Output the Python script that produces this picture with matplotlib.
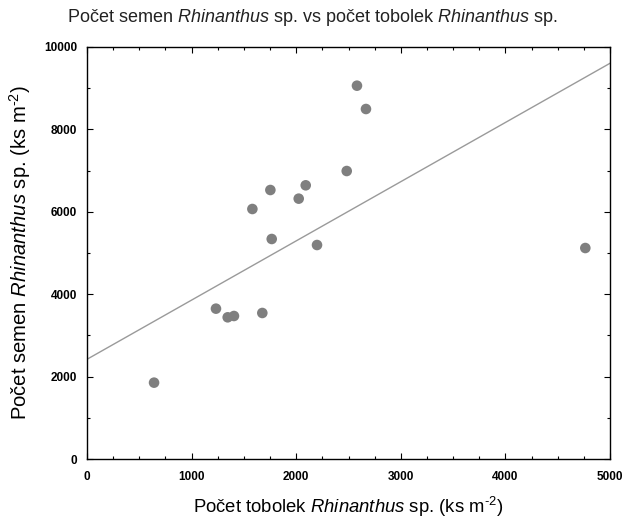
import numpy as np
import matplotlib
matplotlib.use("Agg")
import matplotlib.pyplot as plt
from matplotlib.ticker import MultipleLocator

plt.rcParams["font.family"] = ["Liberation Sans", "DejaVu Sans"]
plt.rcParams["mathtext.fontset"] = "custom"
plt.rcParams["mathtext.rm"] = "Liberation Sans"
plt.rcParams["mathtext.it"] = "Liberation Sans:italic"
plt.rcParams["mathtext.bf"] = "Liberation Sans:bold"

# Capsule counts (x) and seed counts (y), individuals per m^2
tobolky = [2581, 2667, 2483, 1753, 2091, 2024, 1581, 1766, 2199,
           1233, 1345, 1405, 1676, 641, 4764]
semena = [9061, 8495, 6990, 6529, 6643, 6319, 6068, 5340, 5194,
          3649, 3439, 3471, 3544, 1853, 5121]

# Regression line: seeds = intercept + slope * capsules
fit_intercept = 2420
fit_slope = 1.437

x_ticks = [0, 1000, 2000, 3000, 4000, 5000]
y_ticks = [0, 2000, 4000, 6000, 8000, 10000]

fig = plt.figure(figsize=(6.25, 5.19), dpi=100)
ax = fig.add_axes([87 / 625, 60 / 519, 523 / 625, 412 / 519])

xl = np.array([x_ticks[0], x_ticks[-1]])
ax.plot(xl, fit_intercept + fit_slope * xl, color="#9a9a9a", lw=1.0, zorder=2)

ax.scatter(tobolky, semena, s=58, color="#7f7f7f", edgecolors="none", zorder=3)

ax.set_xlim(x_ticks[0], x_ticks[-1])
ax.set_ylim(y_ticks[0], y_ticks[-1])
ax.set_xticks(x_ticks)
ax.set_yticks(y_ticks)
ax.xaxis.set_minor_locator(MultipleLocator(250))
ax.yaxis.set_minor_locator(MultipleLocator(1000))
ax.tick_params(which="both", direction="in", top=True, right=True,
               labelsize=8.5, width=0.8)
ax.tick_params(axis="x", which="major", pad=9)
ax.tick_params(axis="y", which="major", pad=7)
ax.tick_params(which="major", length=4)
ax.tick_params(which="minor", length=2.5)
for lab in ax.get_xticklabels() + ax.get_yticklabels():
    lab.set_fontweight("bold")
for s in ax.spines.values():
    s.set_linewidth(1.0)

fig.text(0.5, 1 - 18 / 519,
         r"Počet semen $\mathit{Rhinanthus}$ sp. vs počet tobolek $\mathit{Rhinanthus}$ sp.",
         fontsize=13, ha="center", va="center", color="#222222")
fig.text((87 + 261.5) / 625, 1 - 507 / 519,
         r"Počet tobolek $\mathit{Rhinanthus}$ sp. (ks m$^{\text{-2}}$)",
         fontsize=13.3, ha="center", va="center")
fig.text(20 / 625, 1 - 253 / 519,
         r"Počet semen $\mathit{Rhinanthus}$ sp. (ks m$^{\text{-2}}$)",
         fontsize=14.6, ha="center", va="center", rotation=90)

fig.savefig("out.png", dpi=100)
